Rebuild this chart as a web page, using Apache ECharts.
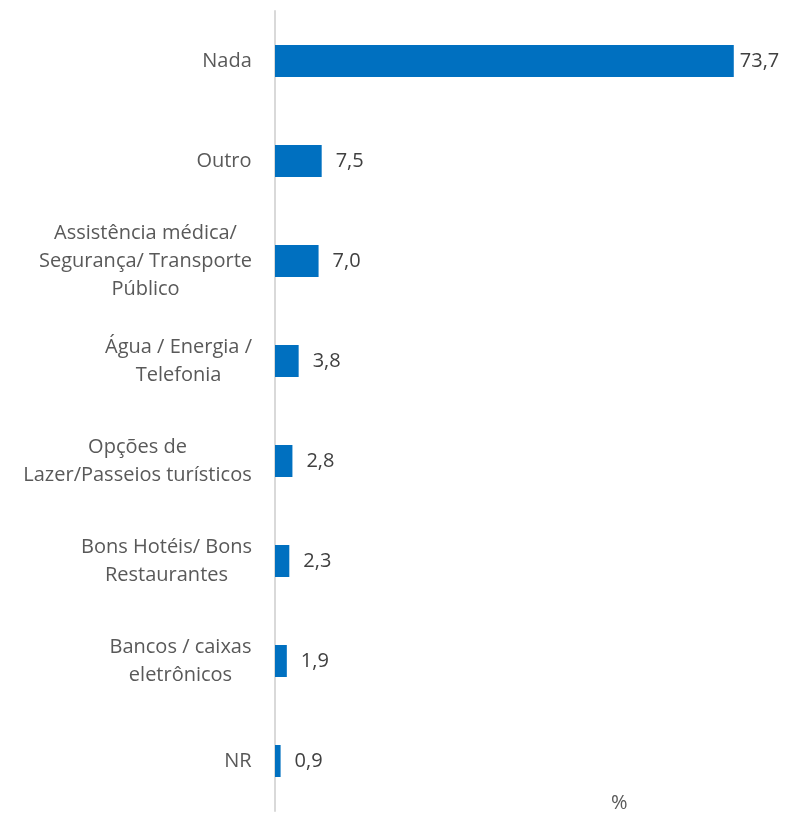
<!DOCTYPE html>
<html>
<head>
<meta charset="utf-8">
<script src="https://cdn.jsdelivr.net/npm/echarts@6/dist/echarts.min.js"></script>
<style>html,body{margin:0;padding:0;background:#fff}#c{width:787px;height:813px}</style>
</head>
<body>
<div id="c"></div>
<script>
const categories = [
  'Nada',
  'Outro',
  'Assistência médica/\nSegurança/ Transporte\nPúblico',
  'Água / Energia /\nTelefonia',
  'Opções de\nLazer/Passeios turísticos',
  'Bons Hotéis/ Bons\nRestaurantes',
  'Bancos / caixas\neletrônicos',
  'NR'
];
const values = [73.7, 7.5, 7.0, 3.8, 2.8, 2.3, 1.9, 0.9];
const unitLabel = '%';

const FONT = '20px "Open Sans"';
const ctx = document.createElement('canvas').getContext('2d');
ctx.font = FONT;
function blockWidth(s) {
  return Math.ceil(Math.max(...s.split('\n').map(l => ctx.measureText(l).width)));
}
const rich = {};
categories.forEach((c, i) => {
  rich['r' + i] = {width: blockWidth(c), align: 'center', color: '#595959',
                   fontSize: 20, lineHeight: 28, fontFamily: 'Open Sans'};
});
const barData = values.map((v, i) => i === 0
  ? {value: v, label: {distance: 6}}
  : v);

const chart = echarts.init(document.getElementById('c'), null, {renderer: 'canvas'});
chart.setOption({
  animation: false,
  textStyle: {fontFamily: 'Open Sans'},
  grid: {left: 275, top: 11, right: 14, bottom: 2, containLabel: false, outerBoundsMode: 'none'},
  xAxis: {
    type: 'value', min: 0, max: 80,
    show: false
  },
  yAxis: {
    type: 'category',
    data: categories,
    inverse: true,
    axisLine: {show: true, lineStyle: {color: '#d9d9d9', width: 2}},
    axisTick: {show: false},
    axisLabel: {
      color: '#595959', fontSize: 20, lineHeight: 28, margin: 23,
      align: 'right',
      overflow: 'none',
      rich: rich,
      formatter: (v, i) => v.split('\n').map(l => '{r' + i + '|' + l + '}').join('\n')
    },
    splitLine: {show: false}
  },
  series: [{
    type: 'bar',
    data: barData,
    barWidth: 32,
    itemStyle: {color: '#0070c0'},
    label: {
      show: true, position: 'right', distance: 14,
      color: '#404040', fontSize: 20,
      formatter: p => p.value.toFixed(1).replace('.', ',')
    }
  }],
  graphic: [{
    type: 'text', left: 611, top: 793,
    style: {text: unitLabel, fill: '#595959', font: FONT}
  }]
});
</script>
</body>
</html>
